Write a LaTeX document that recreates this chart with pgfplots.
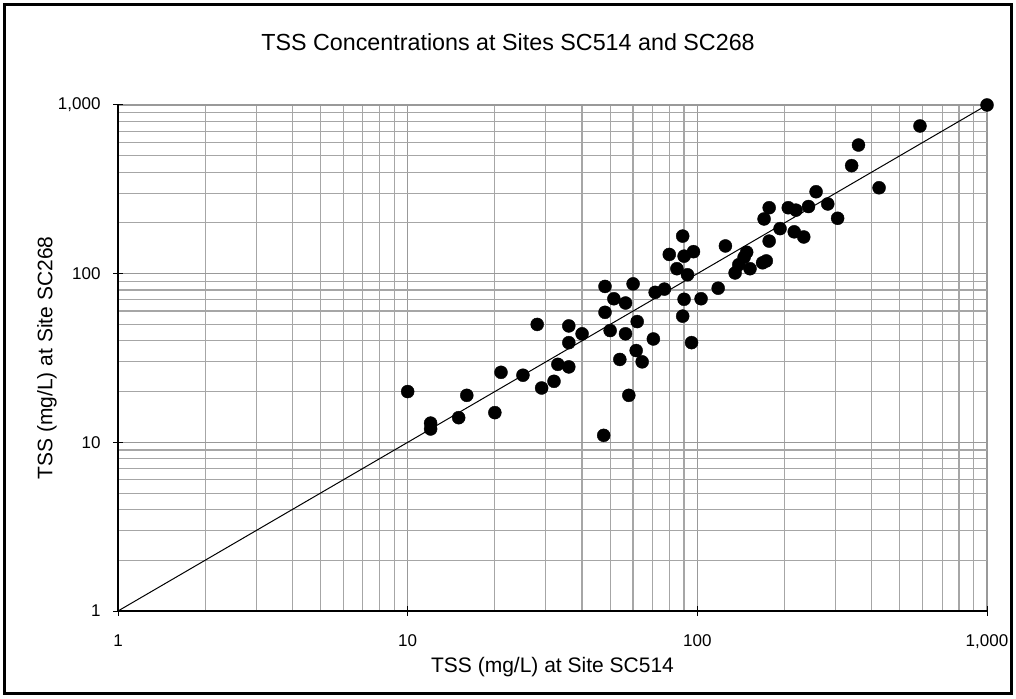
\documentclass[border=0pt]{standalone}
\usepackage{fontspec}
\setmainfont{Liberation Sans}
\usepackage{pgfplots}
\pgfplotsset{compat=1.18}
\begin{document}
\begin{tikzpicture}[x=1pt,y=1pt]
\useasboundingbox (0,0) rectangle (1016,698);
\draw[line width=2.5pt] (4.5,4.5) rectangle (1011.5,693.5);
\begin{axis}[
  at={(118pt,87pt)}, anchor=south west,
  scale only axis, width=869pt, height=506pt,
  xmode=log, ymode=log,
  xmin=1, xmax=1000, ymin=1, ymax=1000,
  xtick={1,10,100,1000}, xticklabels={1,10,100,{1,000}},
  ytick={1,10,100,1000}, yticklabels={1,10,100,{1,000}},
  axis x line=bottom, axis y line=left,
  axis line style={-, line width=1.5pt, black},
  grid=both,
  major grid style={draw=black!40, line width=1.2pt},
  minor grid style={draw=black!35, line width=1.2pt},
  tick align=center, major tick length=10pt, minor tick length=0pt,
  tick style={black, line width=1pt},
  ticklabel style={font=\fontsize{17}{17}\selectfont},
  yticklabel style={xshift=-9pt},
  xticklabel style={yshift=-15pt},
  clip=false,
]
\addplot[black, line width=1pt] coordinates {(1,1) (1000,1000)};
\addplot[only marks, mark=*, mark size=6.5pt, mark options={fill=black, draw=black}] table {
x y
10 20
12 13
12 12
15 14
16 19
20 15
21 26
25 25
29 21
32 23
33 29
36 28
28 50
36 49
40 44
36 39
47.5 11
50 46
56.5 44
70.5 41
54 31
61.5 35
64.5 30
58 19
48 84
60 87
51.5 71
56.5 67
48 59
71.5 77.5
77 81
90 70.5
103 71
118 82
89 56
62 52
95.5 39
85 107
92.5 98.5
89 167
80 130
90 127
97 135
135 101
139 113
145 125
148 134
152 107
168 116
173 119
125 146
177 156
170 211
177 246
206 246
219 238
193 185
216 177
233 165
242 250
257 306
282 259
305 213
360 579
341 437
424 323
587 751
1000 1000
};
\end{axis}
\node[font=\fontsize{23.3}{23.3}\selectfont] at (508,656) {TSS Concentrations at Sites SC514 and SC268};
\node[font=\fontsize{21}{21}\selectfont] at (552.5,31) {TSS (mg/L) at Site SC514};
\node[rotate=90, font=\fontsize{21}{21}\selectfont] at (47,340) {TSS (mg/L) at Site SC268};
\end{tikzpicture}
\end{document}
